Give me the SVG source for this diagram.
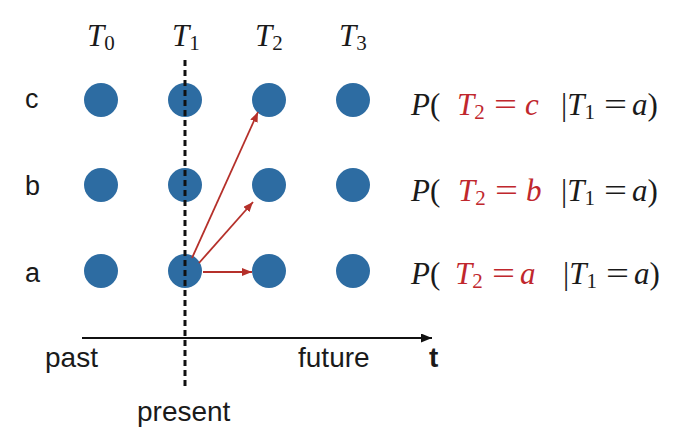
<svg xmlns="http://www.w3.org/2000/svg" width="682" height="436" viewBox="0 0 682 436">
<style>
.node{fill:#2d6ca2;}
.sans{font-family:"Liberation Sans",Arial,sans-serif;fill:#1a1a1a;}
.lab{font-size:28px;}
.row{font-size:27px;}
.math{font-family:"Liberation Serif","Times New Roman",serif;font-size:31px;fill:#1a1a1a;}
.it{font-style:italic;}
.sub{font-size:21px;font-style:normal;}
.red{fill:#c0272d;}
.arr{stroke:#b5302a;stroke-width:1.8;fill:none;marker-end:url(#ah);}
</style>
<defs>
<marker id="ah" markerUnits="userSpaceOnUse" markerWidth="12" markerHeight="10" refX="10" refY="4" orient="auto">
<path d="M0,0 L10,4 L0,8 Z" fill="#b5302a"/>
</marker>
<marker id="axh" markerUnits="userSpaceOnUse" markerWidth="12" markerHeight="10" refX="11" refY="4.5" orient="auto">
<path d="M0,0 L11,4.5 L0,9 Z" fill="#111"/>
</marker>
</defs>
<rect width="682" height="436" fill="#ffffff"/>

<g id="time-labels" class="math">
<text x="87" y="46"><tspan class="it">T</tspan><tspan class="sub" dy="4">0</tspan></text>
<text x="172" y="46"><tspan class="it">T</tspan><tspan class="sub" dy="4">1</tspan></text>
<text x="255" y="46"><tspan class="it">T</tspan><tspan class="sub" dy="4">2</tspan></text>
<text x="339" y="46"><tspan class="it">T</tspan><tspan class="sub" dy="4">3</tspan></text>
</g>

<g id="state-labels" class="sans row">
<text x="25" y="108">c</text>
<text x="25" y="195">b</text>
<text x="25" y="282">a</text>
</g>

<g id="node-T0-c"><circle class="node" cx="101" cy="100" r="17"/></g>
<g id="node-T1-c"><circle class="node" cx="185" cy="100" r="17"/></g>
<g id="node-T2-c"><circle class="node" cx="269" cy="100" r="17"/></g>
<g id="node-T3-c"><circle class="node" cx="353" cy="100" r="17"/></g>
<g id="node-T0-b"><circle class="node" cx="101" cy="185" r="17"/></g>
<g id="node-T1-b"><circle class="node" cx="185" cy="185" r="17"/></g>
<g id="node-T2-b"><circle class="node" cx="269" cy="185" r="17"/></g>
<g id="node-T3-b"><circle class="node" cx="353" cy="185" r="17"/></g>
<g id="node-T0-a"><circle class="node" cx="101" cy="271" r="17"/></g>
<g id="node-T1-a"><circle class="node" cx="185" cy="271" r="17"/></g>
<g id="node-T2-a"><circle class="node" cx="269" cy="271" r="17"/></g>
<g id="node-T3-a"><circle class="node" cx="353" cy="271" r="17"/></g>

<g id="present-line">
<line x1="185" y1="60" x2="185" y2="390" stroke="#111" stroke-width="3" stroke-dasharray="6 4"/>
</g>

<g id="connectors">
<line class="arr" x1="192" y1="258" x2="258" y2="112"/>
<line class="arr" x1="199" y1="263" x2="253" y2="202"/>
<line class="arr" x1="203" y1="272" x2="252" y2="272"/>
</g>

<g id="axis">
<line x1="82" y1="338" x2="432" y2="338" stroke="#111" stroke-width="2" marker-end="url(#axh)"/>
<text class="sans lab" x="45" y="367">past</text>
<text class="sans lab" x="298" y="367">future</text>
<text class="sans lab" x="429" y="367" font-weight="bold">t</text>
<text class="sans lab" x="137" y="421">present</text>
</g>

<g id="eq-c" class="math">
<text x="411" y="115"><tspan class="it">P</tspan>(</text>
<text x="457" y="115" class="red"><tspan class="it">T</tspan><tspan class="sub" dy="4">2</tspan></text>
<text x="494" y="115" class="red" textLength="23" lengthAdjust="spacingAndGlyphs">=</text>
<text x="525" y="115" class="red it">c</text>
<text x="561" y="115">|<tspan class="it">T</tspan><tspan class="sub" dy="4">1</tspan></text>
<text x="604" y="115" textLength="23" lengthAdjust="spacingAndGlyphs">=</text>
<text x="632" y="115"><tspan class="it">a</tspan>)</text>
</g>

<g id="eq-b" class="math">
<text x="411" y="201"><tspan class="it">P</tspan>(</text>
<text x="458" y="201" class="red"><tspan class="it">T</tspan><tspan class="sub" dy="4">2</tspan></text>
<text x="495" y="201" class="red" textLength="23" lengthAdjust="spacingAndGlyphs">=</text>
<text x="526" y="201" class="red it">b</text>
<text x="561" y="201">|<tspan class="it">T</tspan><tspan class="sub" dy="4">1</tspan></text>
<text x="604" y="201" textLength="23" lengthAdjust="spacingAndGlyphs">=</text>
<text x="632" y="201"><tspan class="it">a</tspan>)</text>
</g>

<g id="eq-a" class="math">
<text x="411" y="284"><tspan class="it">P</tspan>(</text>
<text x="455" y="284" class="red"><tspan class="it">T</tspan><tspan class="sub" dy="4">2</tspan></text>
<text x="492" y="284" class="red" textLength="23" lengthAdjust="spacingAndGlyphs">=</text>
<text x="520" y="284" class="red it">a</text>
<text x="563" y="284">|<tspan class="it">T</tspan><tspan class="sub" dy="4">1</tspan></text>
<text x="606" y="284" textLength="23" lengthAdjust="spacingAndGlyphs">=</text>
<text x="634" y="284"><tspan class="it">a</tspan>)</text>
</g>
</svg>
